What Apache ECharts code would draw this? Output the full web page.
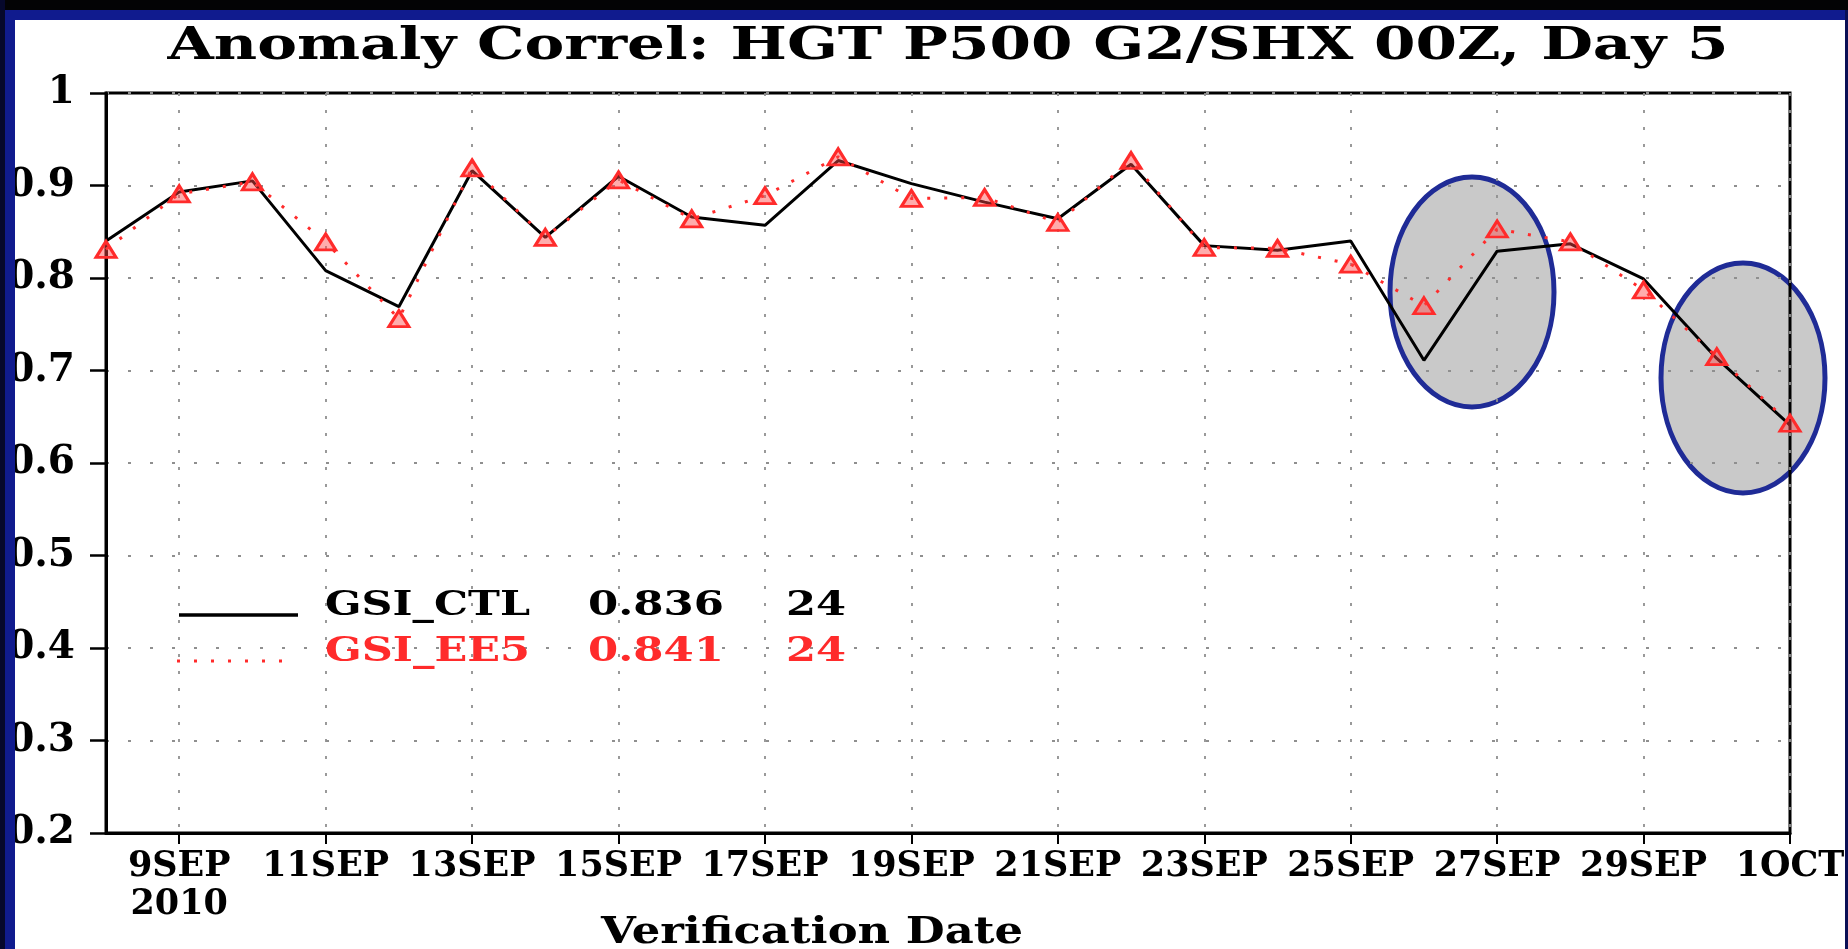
<!DOCTYPE html>
<html>
<head>
<meta charset="utf-8">
<title>Anomaly Correl</title>
<script src="https://cdn.jsdelivr.net/npm/echarts@6/dist/echarts.min.js"></script>
<style>
  html, body { margin: 0; padding: 0; background: #fff; }
  #chart { width: 1848px; height: 949px; }
</style>
</head>
<body>
<div id="chart"></div>
<script>
// verification dates, 8 Sep .. 1 Oct 2010
const days = ['8SEP', '9SEP', '10SEP', '11SEP', '12SEP', '13SEP', '14SEP', '15SEP',
  '16SEP', '17SEP', '18SEP', '19SEP', '20SEP', '21SEP', '22SEP', '23SEP', '24SEP',
  '25SEP', '26SEP', '27SEP', '28SEP', '29SEP', '30SEP', '1OCT']
const gsiCtl = [0.840, 0.893, 0.905, 0.808, 0.769, 0.916, 0.844, 0.910, 0.866, 0.857,
  0.927, 0.902, 0.882, 0.864, 0.923, 0.835, 0.830, 0.840, 0.711, 0.829, 0.837, 0.799,
  0.713, 0.641]
const gsiEe5 = [0.831, 0.891, 0.904, 0.839, 0.756, 0.919, 0.844, 0.906, 0.864, 0.889,
  0.931, 0.886, 0.887, 0.860, 0.927, 0.833, 0.832, 0.815, 0.770, 0.853, 0.839, 0.787,
  0.715, 0.643]
const yearLabel = '2010'
const legendNames = ['GSI_CTL', 'GSI_EE5']
const legendMeans = ['0.836', '0.841']
const legendCounts = ['24', '24']
const titleText = 'Anomaly Correl: HGT P500 G2/SHX 00Z, Day 5'
const xTitle = 'Verification Date'

const FONT = '"DejaVu Serif", "Liberation Serif", serif'
const RED = '#ff2b2b'
const BLUE = '#101b8e'
const everyOther = (i) => i % 2 === 1

// text width helper, used to stretch the graphic texts to the wide plot font
const measureCtx = document.createElement('canvas').getContext('2d')
function textWidth(text, weight, size) {
  measureCtx.font = weight + ' ' + size + 'px ' + FONT
  return measureCtx.measureText(text).width
}

const chart = echarts.init(document.getElementById('chart'))

// text placed by its left (or centre) x and a target width
function txt(x, y, text, opt) {
  const weight = opt.weight || 'bold'
  const sx = opt.width ? opt.width / textWidth(text, weight, opt.size) : 1
  return {
    type: 'text', x: x, y: y, z: 50,
    scaleX: sx,
    style: {
      text: text,
      fill: opt.color || '#000',
      font: weight + ' ' + opt.size + 'px ' + FONT,
      textAlign: opt.align || 'left',
      textVerticalAlign: 'middle'
    }
  }
}

const legendRows = []
legendNames.forEach((name, i) => {
  const color = i === 0 ? '#000' : RED
  const y = 606 + i * 46
  legendRows.push(txt(325, y, name, { size: 34, width: 205, color: color }))
  legendRows.push(txt(588, y, legendMeans[i], { size: 34, width: 136, color: color }))
  legendRows.push(txt(786, y, legendCounts[i], { size: 34, width: 60, color: color }))
})

const option = {
  animation: false,
  backgroundColor: '#fff',
  grid: {
    left: 106, right: 58, top: 93, bottom: 116,
    show: true, borderColor: '#000', borderWidth: 3, z: 1
  },
  xAxis: {
    type: 'category',
    data: days,
    boundaryGap: false,
    z: 1,
    axisLine: { lineStyle: { color: '#000', width: 3 } },
    axisTick: { interval: everyOther, length: 11, lineStyle: { color: '#000', width: 2 } },
    axisLabel: {
      interval: everyOther,
      formatter: (v, i) => (i === 1 ? v + '\n' + yearLabel : v),
      color: '#000', fontFamily: FONT, fontWeight: 'bold', fontSize: 35,
      lineHeight: 38, margin: 15
    },
    splitLine: {
      show: true, interval: everyOther,
      lineStyle: { color: '#8f8f8f', width: 1.8, type: [3, 14] }
    }
  },
  yAxis: {
    type: 'value',
    min: 0.2, max: 1, interval: 0.1,
    z: 1,
    axisLine: { show: true, lineStyle: { color: '#000', width: 3 } },
    axisTick: { show: true, length: 16, lineStyle: { color: '#000', width: 2.5 } },
    axisLabel: {
      formatter: (v) => (Math.abs(v - 1) < 1e-6 ? '1' : v.toFixed(1)),
      color: '#000', fontFamily: FONT, fontWeight: 'bold', fontSize: 39, margin: 31
    },
    splitLine: { lineStyle: { color: '#8f8f8f', width: 1.8, type: [3, 19] } }
  },
  series: [
    {
      name: legendNames[0],
      type: 'line',
      data: gsiCtl,
      symbol: 'none',
      z: 3,
      lineStyle: { color: '#000', width: 3 }
    },
    {
      name: legendNames[1],
      type: 'line',
      data: gsiEe5,
      symbol: 'triangle',
      symbolSize: [20, 16],
      z: 4,
      itemStyle: { color: 'rgba(255,70,70,0.45)', borderColor: RED, borderWidth: 3 },
      lineStyle: { color: RED, width: 3, type: [3, 14] }
    }
  ],
  graphic: [
    // highlight ellipses
    { type: 'ellipse', z: 0, shape: { cx: 1472, cy: 292, rx: 82, ry: 115 },
      style: { fill: '#c9c9c9', stroke: '#1f2b96', lineWidth: 5 } },
    { type: 'ellipse', z: 0, shape: { cx: 1743, cy: 378, rx: 82, ry: 115 },
      style: { fill: '#c9c9c9', stroke: '#1f2b96', lineWidth: 5 } },
    // legend
    { type: 'line', z: 50, shape: { x1: 179, y1: 615, x2: 298, y2: 615 },
      style: { stroke: '#000', lineWidth: 3.5 } },
    { type: 'line', z: 50, shape: { x1: 177, y1: 661, x2: 292, y2: 661 },
      style: { stroke: RED, lineWidth: 3, lineDash: [3, 14] } },
    ...legendRows,
    // titles
    txt(948, 47, titleText, { size: 45, weight: 'bold', width: 1561, align: 'center' }),
    txt(812, 933, xTitle, { size: 37, weight: 'bold', width: 422, align: 'center' }),
    // frame
    { type: 'rect', z: 100, shape: { x: 0, y: 0, width: 1848, height: 10 }, style: { fill: '#030305' } },
    { type: 'rect', z: 100, shape: { x: 0, y: 10, width: 1848, height: 10 }, style: { fill: BLUE } },
    { type: 'rect', z: 100, shape: { x: 0, y: 10, width: 15, height: 939 }, style: { fill: BLUE } },
    { type: 'rect', z: 100, shape: { x: 0, y: 0, width: 5, height: 949 }, style: { fill: '#06082c' } },
    { type: 'rect', z: 100, shape: { x: 1845, y: 10, width: 3, height: 939 }, style: { fill: '#0a0f55' } }
  ]
}

chart.setOption(option)

window.addEventListener('resize', () => {
  chart.resize()
})
</script>
</body>
</html>
